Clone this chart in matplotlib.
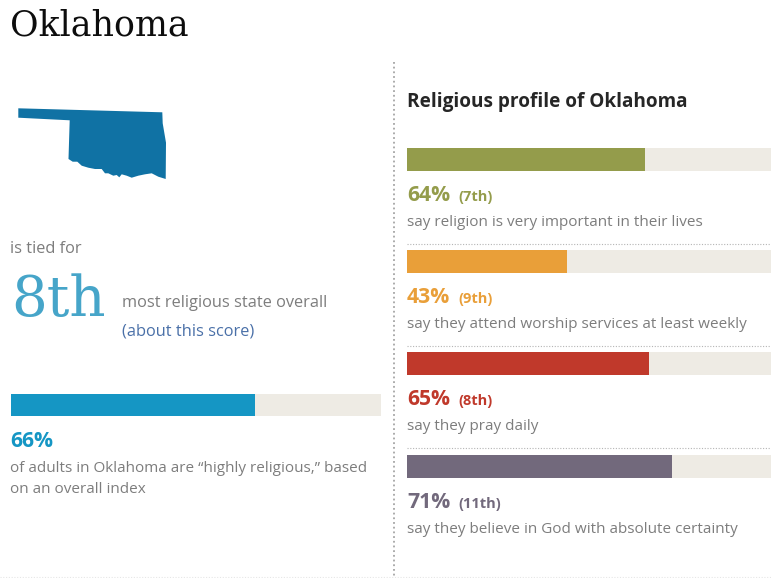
import matplotlib
matplotlib.use('Agg')
import matplotlib.pyplot as plt

W, H = 771, 578

# profile measures, percent of adults and state rank
measures = ['say religion is very important in their lives',
            'say they attend worship services at least weekly',
            'say they pray daily',
            'say they believe in God with absolute certainty']
values = [64, 43, 65, 71]
ranks = ['7th', '9th', '8th', '11th']
colors = ['#949c4b', '#e99f39', '#c0392b', '#72697c']

overall_value = 66
overall_rank = '8th'

# state outline, traced in page pixels
outline_x = [18.3, 162.3, 162.7, 166, 165.7, 158.3, 151.7, 145, 138.3, 131.7, 126.7, 121.7, 119.3,
             116.7, 113.3, 108.3, 105, 101.7, 95, 88.3, 81.7, 77.3, 72.7, 68.5, 69.7, 18.3]
outline_y = [108.3, 112.3, 123.3, 142.7, 179, 176.7, 173.3, 174.3, 175.7, 177.7, 175.7, 174.3, 177.3,
             175, 175.7, 173.3, 173.3, 169, 169, 167.7, 165.7, 161.7, 161.7, 159, 120.3, 117.7]

plt.rcParams['font.family'] = ['Open Sans', 'DejaVu Sans']
fig = plt.figure(figsize=(W / 100, H / 100), dpi=100)

page = fig.add_axes([0, 0, 1, 1])
page.set_xlim(0, W)
page.set_ylim(H, 0)
page.axis('off')


def bar(x0, x1, y0, y1, value, limit, color):
    ax = fig.add_axes([x0 / W, 1 - y1 / H, (x1 - x0) / W, (y1 - y0) / H])
    ax.set_xlim(0, limit)
    ax.set_ylim(0, 1)
    ax.axis('off')
    ax.barh(0.5, limit, height=1, color='#eeebe4')
    ax.barh(0.5, value, height=1, color=color)


grey = '#7d7d7d'

page.text(10, 36, 'Oklahoma', family='DejaVu Serif', fontsize=25, color='#0d0d0d')
page.fill(outline_x, outline_y, color='#1072a4', lw=0)

page.text(10.5, 253, 'is tied for', fontsize=11.8, color=grey)
page.text(11, 316, overall_rank, family='DejaVu Serif', fontsize=40.5, color='#46a5c9')
page.text(122, 307, 'most religious state overall', fontsize=11.8, color=grey)
page.text(122, 336, '(about this score)', fontsize=11.8, color='#4a70a8')

bar(10.5, 381, 394, 416, overall_value, 100, '#1596c4')
page.text(10.5, 447, f'{overall_value}%', fontsize=15.2, fontweight='bold', color='#1596c4')
page.text(10.5, 472, 'of adults in Oklahoma are “highly religious,” based', fontsize=11, color=grey)
page.text(10.5, 493, 'on an overall index', fontsize=11, color=grey)

page.plot([394, 394], [62, 576], color='#a5a5a5', lw=1.3, ls=(0, (1, 1.6)))
page.plot([0, W], [577, 577], color='#e6e6e6', lw=0.8, ls=(0, (1, 1.5)))
page.text(407, 107, 'Religious profile of Oklahoma', fontsize=13.7, fontweight='bold', color='#262626')

tops = [148, 250, 352, 455]
for i in range(len(values)):
    top = tops[i]
    bar(407, 771, top, top + 22.5, values[i], 97.7, colors[i])
    page.text(407, top + 53, f'{values[i]}%', fontsize=15.2, fontweight='bold', color=colors[i])
    page.text(458, top + 53, f'({ranks[i]})', fontsize=10.5, fontweight='bold', color=colors[i])
    page.text(407, top + 78, measures[i], fontsize=11, color=grey)
    if i < 3:
        page.plot([407, 771], [top + 96, top + 96], color='#b5b5b5', lw=0.8, ls=(0, (1, 1.5)))

fig.savefig('out.png', dpi=100)
